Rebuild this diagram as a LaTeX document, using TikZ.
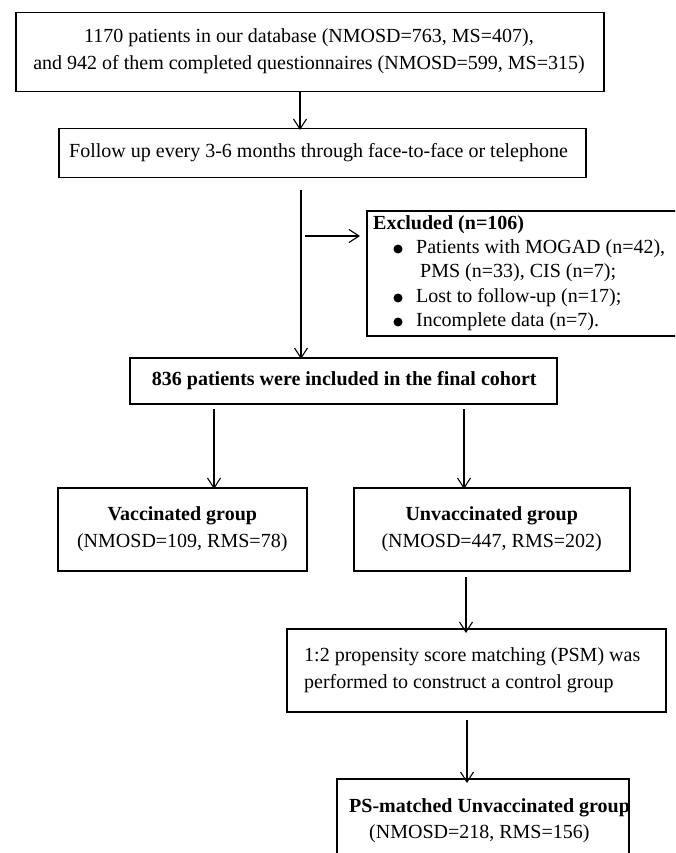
\documentclass[tikz,border=0pt]{standalone}
\usepackage{fontspec}
\setmainfont{Liberation Serif}
\usetikzlibrary{arrows.meta}
\begin{document}
\begin{tikzpicture}[x=1pt,y=-1pt,
  box/.style={draw, line width=1.5pt, inner sep=0pt, anchor=north west},
  arr/.style={-{Straight Barb[length=10pt,width=13pt,line width=1.1pt]}, line width=1.1pt},
  txt/.style={font=\fontsize{20}{27}\selectfont, inner sep=0pt},
  btxt/.style={font=\fontsize{20}{27}\selectfont\bfseries, inner sep=0pt},
  bul/.style={circle, fill=black, inner sep=0pt, minimum size=9pt}
]
\clip (0,0) rectangle (675,853);
\fill[white] (0,0) rectangle (675,853);

% boxes
\node[box, minimum width=588pt, minimum height=79pt] (b1) at (15,12) {};
\node[box, minimum width=527pt, minimum height=49pt] (b2) at (58,128) {};
\node[box, minimum width=340pt, minimum height=125pt] (ex) at (366,210) {};
\node[box, minimum width=427pt, minimum height=46pt] (inc) at (129,357) {};
\node[box, minimum width=249pt, minimum height=83pt] (vac) at (57,487) {};
\node[box, minimum width=276pt, minimum height=83pt] (unv) at (353,487) {};
\node[box, minimum width=379pt, minimum height=83pt] (psm) at (286,628) {};
\node[box, minimum width=292pt, minimum height=100pt] (psu) at (336,778) {};

% texts
\node[txt, align=center] (t1) at (309,51) {1170 patients in our database (NMOSD=763, MS=407),\\ and 942 of them completed questionnaires (NMOSD=599, MS=315)};
\node[txt, anchor=west] (t2) at (69,153) {Follow up every 3-6 months through face-to-face or telephone};

\node[btxt, anchor=west] (ex0) at (373,225) {Excluded (n=106)};
\node[bul] (d1) at (398,249) {};
\node[txt, anchor=west] (ex1) at (416,249) {Patients with MOGAD (n=42),};
\node[txt, anchor=west] (ex2) at (420,273) {PMS (n=33), CIS (n=7);};
\node[bul] (d2) at (398,298) {};
\node[txt, anchor=west] (ex3) at (416,298) {Lost to follow-up (n=17);};
\node[bul] (d3) at (398,322) {};
\node[txt, anchor=west] (ex4) at (416,322) {Incomplete data (n=7).};

\node[btxt] (t3) at ([xshift=1pt]inc.center) {836 patients were included in the final cohort};
\node[txt, align=center] (t4) at (vac.center) {\textbf{Vaccinated group}\\(NMOSD=109, RMS=78)};
\node[txt, align=center] (t5) at (unv.center) {\textbf{Unvaccinated group}\\(NMOSD=447, RMS=202)};
\node[txt, align=left, anchor=west] (t6) at (304,670) {1:2 propensity score matching (PSM) was\\performed to construct a control group};
\node[btxt, anchor=west] (t7) at (349,808) {PS-matched Unvaccinated group};
\node[txt, anchor=west] (t8) at (369,834) {(NMOSD=218, RMS=156)};

% connector columns
\coordinate (c1) at (300,0);
\coordinate (c2) at (301,190);
\coordinate (c3) at (305,236);
\coordinate (cl) at (214,409);
\coordinate (cr) at (464,409);
\coordinate (cu) at (466,577);
\coordinate (cp) at (467,720);

\draw[arr] (b1.south -| c1) -- ([yshift=-2pt]b2.north -| c1);
\draw[arr] (c2) -- ([yshift=-2pt]inc.north -| c2);
\draw[arr] (c3) -- ([xshift=-6pt]ex.west |- c3);
\draw[arr] (cl) -- ([yshift=-2pt]vac.north -| cl);
\draw[arr] (cr) -- ([yshift=-2pt]unv.north -| cr);
\draw[arr] (cu) -- ([yshift=-5pt]psm.north -| cu);
\draw[arr] (cp) -- ([yshift=-5pt]psu.north -| cp);
\end{tikzpicture}
\end{document}
